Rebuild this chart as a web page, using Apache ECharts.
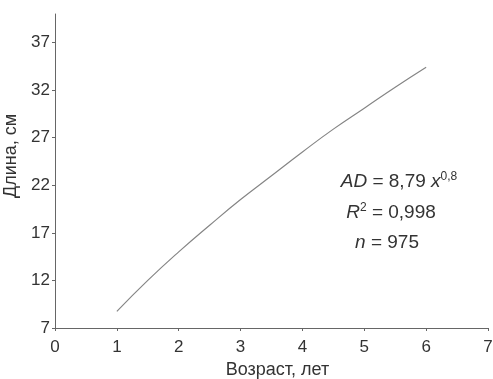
<!DOCTYPE html>
<html><head><meta charset="utf-8">
<script src="https://cdn.jsdelivr.net/npm/echarts@6/dist/echarts.min.js"></script>
<style>html,body{margin:0;padding:0;background:#fff}#c{width:493px;height:379px}</style>
</head><body><div id="c"></div>
<script>
var ages = [1, 1.5, 2, 2.5, 3, 3.5, 4, 4.5, 5, 5.5, 6];
var lengths = [8.75, 12.0, 15.0, 17.8, 20.5, 23.0, 25.5, 27.9, 30.1, 32.3, 34.4];
var xTicks = [0, 1, 2, 3, 4, 5, 6, 7];
var yTicks = [7, 12, 17, 22, 27, 32, 37];
var xTitle = 'Возраст, лет';
var yTitle = 'Длина, см';

var chart = echarts.init(document.getElementById('c'));
var font = 'Liberation Sans, Arial, sans-serif';
var rich = {
  i: {fontStyle: 'italic', fontFamily: font, fontSize: 19, fill: '#333'},
  s: {fontSize: 12, fontFamily: font, fill: '#333', padding: [0, 0, 11, 0]}
};
chart.setOption({
  animation: false,
  backgroundColor: '#fff',
  grid: {left: 55, right: 5, top: 14, bottom: 51, containLabel: false, outerBoundsMode: 'none'},
  xAxis: {
    type: 'value', min: xTicks[0], max: xTicks[xTicks.length - 1], interval: 1,
    name: xTitle, nameLocation: 'middle', nameGap: 30,
    nameTextStyle: {fontFamily: font, fontSize: 18, color: '#333', padding: [0, 0, 0, 12]},
    axisLine: {lineStyle: {color: '#666', width: 1}},
    axisTick: {show: true, length: 3, inside: false, lineStyle: {color: '#666'}},
    axisLabel: {fontFamily: font, fontSize: 17, color: '#333', margin: 11},
    splitLine: {show: false}
  },
  yAxis: {
    type: 'value', min: yTicks[0], max: 40, interval: 5,
    name: yTitle, nameLocation: 'middle', nameGap: 26,
    nameTextStyle: {fontFamily: font, fontSize: 18, fontStyle: 'normal', color: '#333', padding: [0, 0, 0, 30]},
    axisLine: {show: true, lineStyle: {color: '#666', width: 1}},
    axisTick: {show: true, length: 3, lineStyle: {color: '#666'}},
    axisLabel: {fontFamily: font, fontSize: 17, color: '#333', margin: 5, showMaxLabel: false,
      formatter: function (v) { return yTicks.indexOf(v) >= 0 ? String(v) : ''; }},
    splitLine: {show: false}
  },
  series: [{
    type: 'line', data: ages.map(function (a, i) { return [a, lengths[i]]; }),
    smooth: 0.5, showSymbol: false,
    lineStyle: {color: '#858585', width: 1.2}
  }],
  graphic: [
    {type: 'text', x: 399, y: 182, style: {
      text: '{i|AD} = 8,79 {i|x}{s|0,8}', x: 0, y: 0, align: 'center', verticalAlign: 'middle',
      fontFamily: font, fontSize: 19, fill: '#333', rich: rich}},
    {type: 'text', x: 391, y: 213, style: {
      text: '{i|R}{s|2} = 0,998', x: 0, y: 0, align: 'center', verticalAlign: 'middle',
      fontFamily: font, fontSize: 19, fill: '#333', rich: rich}},
    {type: 'text', x: 387, y: 243, style: {
      text: '{i|n} = 975', x: 0, y: 0, align: 'center', verticalAlign: 'middle',
      fontFamily: font, fontSize: 19, fill: '#333', rich: rich}}
  ]
});
</script></body></html>
